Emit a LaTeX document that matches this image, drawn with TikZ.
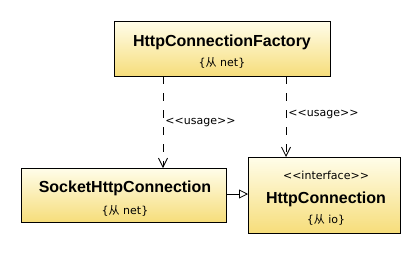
\documentclass[tikz,border=0pt]{standalone}
\usepackage{fontspec}
\setmainfont{DejaVu Sans}
\newfontfamily\titlefont{Liberation Sans}
\newfontfamily\cjk{Noto Sans CJK SC}
\usetikzlibrary{arrows.meta}
\definecolor{boxtop}{HTML}{FFFDE9}
\definecolor{boxbottom}{HTML}{F6DD7A}

\begin{document}
\begin{tikzpicture}[x=1pt, y=-1pt,
  classbox/.style={draw, line width=0.9pt, top color=boxtop, bottom color=boxbottom, anchor=north west, inner sep=0pt},
  title/.style={font=\titlefont\bfseries\fontsize{16}{18}\selectfont, inner sep=0pt},
  small/.style={font=\fontsize{11}{13}\selectfont, inner sep=0pt},
  usage/.style={line width=0.8pt, dash pattern=on 8pt off 9pt, -{Straight Barb[length=9pt,width=9pt]}},
  realize/.style={line width=0.8pt, -{Triangle[open,length=9pt,width=9pt]}},
]

\useasboundingbox (0,0) rectangle (420,255);

% Classes
\node[classbox, minimum width=216pt, minimum height=55pt] (factory) at (114,21) {};
\node[title] (factoryT) at (222,42) {HttpConnectionFactory};
\node[small] (factoryP) at (222,63) {\{{\cjk 从} net\}};

\node[classbox, minimum width=205pt, minimum height=54pt] (socket) at (21,168) {};
\node[title] (socketT) at (125,188) {SocketHttpConnection};
\node[small] (socketP) at (125,211) {\{{\cjk 从} net\}};

\node[classbox, minimum width=152pt, minimum height=76pt] (conn) at (248,157) {};
\node[small] (connS) at (326,175) {<{}<interface>{}>};
\node[title] (connT) at (326,199) {HttpConnection};
\node[small] (connP) at (326,220) {\{{\cjk 从} io\}};

% Dependencies
\coordinate (u1) at (163,76);
\coordinate (u2) at (286,76);
\draw[usage] (u1) -- (u1 |- socket.north) node[midway, right=2pt, small] (lab1) {<{}<usage>{}>};
\draw[usage] (u2) -- (u2 |- conn.north) node[pos=0.48, right=2pt, small] (lab2) {<{}<usage>{}>};

% Realization
\coordinate (r1) at (226,194);
\draw[realize] (r1) -- (r1 -| conn.west);

\end{tikzpicture}
\end{document}
